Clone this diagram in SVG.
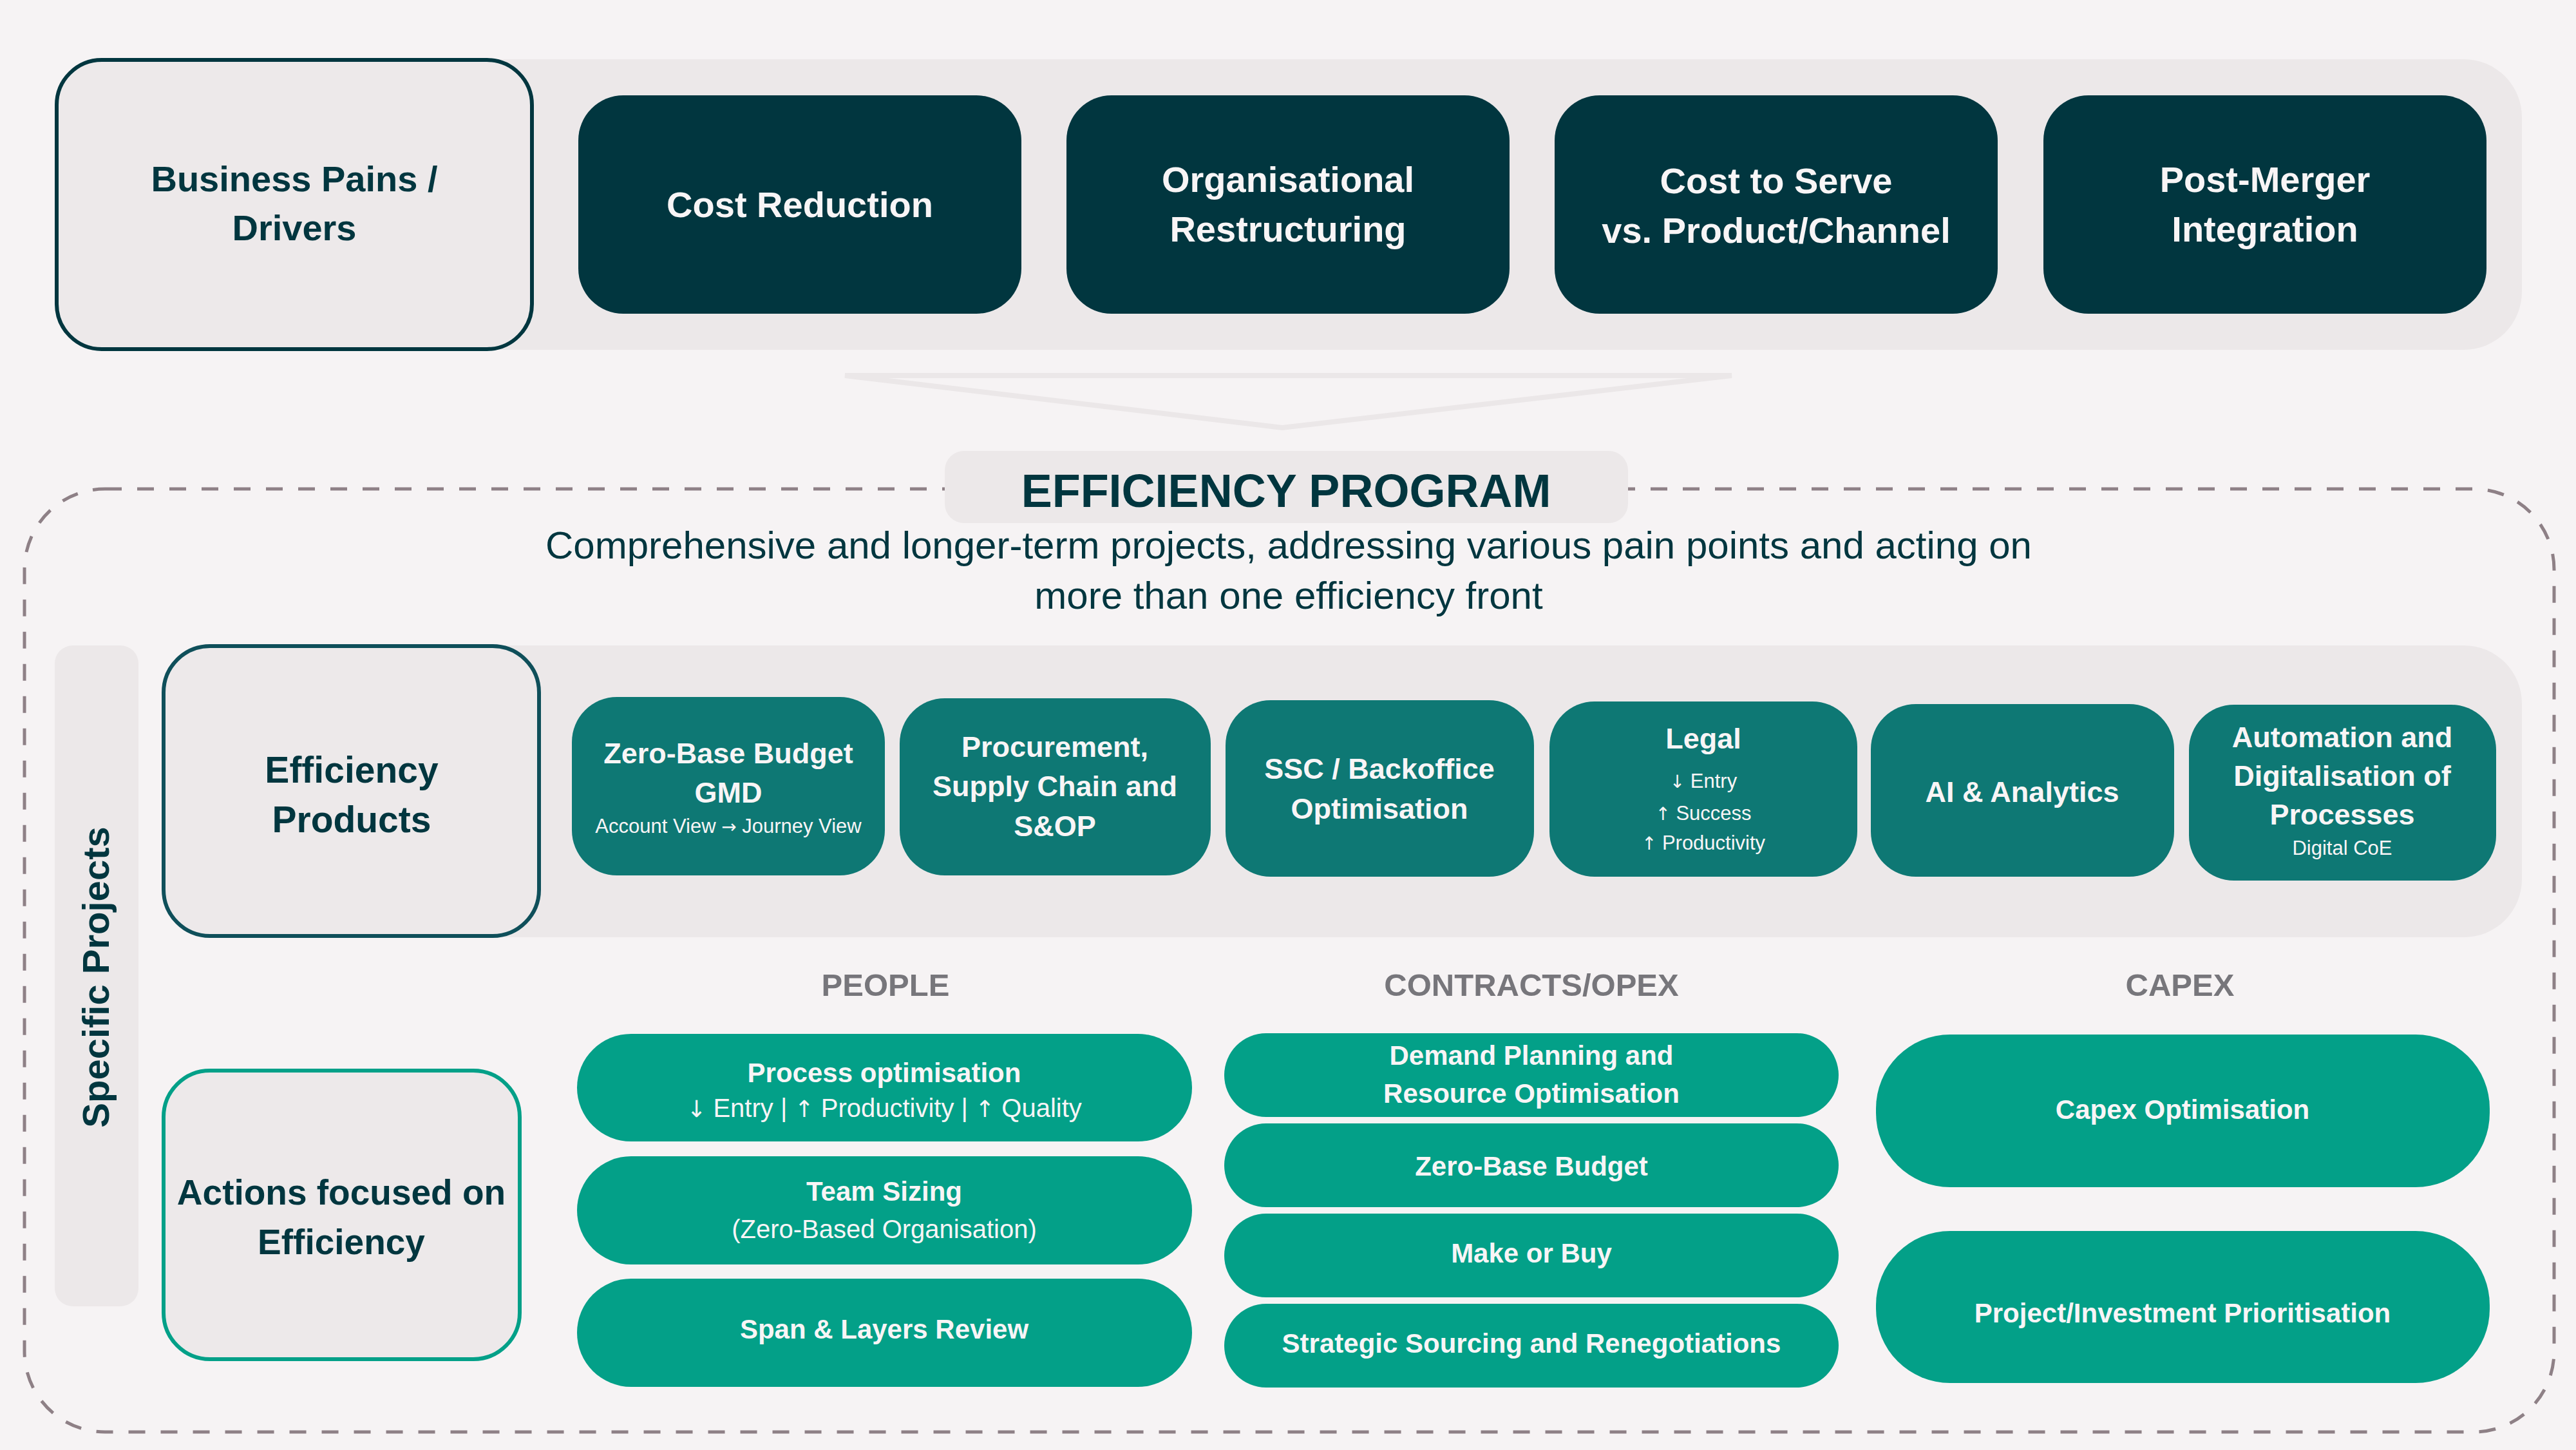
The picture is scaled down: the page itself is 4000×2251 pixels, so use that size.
<svg xmlns="http://www.w3.org/2000/svg" width="4000" height="2251" viewBox="0 0 4000 2251">
<style>
text{font-family:"Liberation Sans",Arial,"DejaVu Sans",sans-serif;text-anchor:middle}
.b{font-weight:700}
.r{font-weight:400}
.ar{font-family:"DejaVu Sans",sans-serif;font-size:0.9em}
.dk{fill:#01363F}
.wt{fill:#F8F5F6}
.gy{fill:#77767B}
.band{fill:#ECE8E9}
.dbox{fill:#01363F}
.tbox{fill:#0E7874}
.gpill{fill:#03A088}
.t56{font-size:56px}
.t45{font-size:45px}
.t42{font-size:42px}
.s31{font-size:31px}
.s40{font-size:40px}
.h49{font-size:49px}
.big57{font-size:57px}
</style>
<rect x="0" y="0" width="4000" height="2251" fill="#F6F3F4"/>

<!-- top band -->
<g id="drivers-band">
<rect class="band" x="100" y="92" width="3816" height="451" rx="90"/>
</g>
<g id="business-pains">
<rect x="88" y="93" width="738" height="449" rx="70" fill="#EDE9EA" stroke="#01363F" stroke-width="6"/>
<text class="b dk t56" x="457" y="297">Business Pains /</text>
<text class="b dk t56" x="457" y="373">Drivers</text>
</g>
<g id="cost-reduction">
<rect class="dbox" x="898" y="148" width="688" height="339" rx="70"/>
<text class="b wt t56" x="1242" y="337">Cost Reduction</text>
</g>
<g id="organisational-restructuring">
<rect class="dbox" x="1656" y="148" width="688" height="339" rx="70"/>
<text class="b wt t56" x="2000" y="298">Organisational</text>
<text class="b wt t56" x="2000" y="375">Restructuring</text>
</g>
<g id="cost-to-serve">
<rect class="dbox" x="2414" y="148" width="688" height="339" rx="70"/>
<text class="b wt t56" x="2758" y="300">Cost to Serve</text>
<text class="b wt t56" x="2758" y="377">vs. Product/Channel</text>
</g>
<g id="post-merger">
<rect class="dbox" x="3173" y="148" width="688" height="339" rx="70"/>
<text class="b wt t56" x="3517" y="298">Post-Merger</text>
<text class="b wt t56" x="3517" y="375">Integration</text>
</g>

<g id="connectors">
<polygon points="1312,583 2689,583 1991,664" fill="none" stroke="#EBE7E8" stroke-width="8"/>
</g>

<!-- program frame -->
<g id="efficiency-program">
<rect x="38" y="759" width="3928" height="1464" rx="125" fill="none" stroke="#8E8086" stroke-width="5" stroke-dasharray="26 24"/>
<rect class="band" x="1467" y="700" width="1061" height="112" rx="30"/>
<text class="b dk" x="1997" y="787" font-size="72">EFFICIENCY PROGRAM</text>
<text class="r dk" x="2001" y="867" font-size="60">Comprehensive and longer-term projects, addressing various pain points and acting on</text>
<text class="r dk" x="2001" y="945" font-size="60">more than one efficiency front</text>
</g>

<g id="specific-projects">
<rect class="band" x="85" y="1002" width="130" height="1026" rx="28"/>
<text class="b dk" font-size="58" transform="translate(169,1517) rotate(-90)">Specific Projects</text>
</g>

<g id="products-band">
<rect class="band" x="300" y="1002" width="3616" height="453" rx="90"/>
</g>
<g id="efficiency-products">
<rect x="254" y="1003" width="583" height="450" rx="72" fill="#EDE9EA" stroke="#0F4F5A" stroke-width="6"/>
<text class="b dk big57" x="546" y="1215">Efficiency</text>
<text class="b dk big57" x="546" y="1292">Products</text>
</g>
<g id="zbb-gmd">
<rect class="tbox" x="888" y="1082" width="486" height="277" rx="70"/>
<text class="b wt t45" x="1131" y="1185">Zero-Base Budget</text>
<text class="b wt t45" x="1131" y="1246">GMD</text>
<text class="r wt s31" x="1131" y="1293">Account View <tspan class="ar">→</tspan> Journey View</text>
</g>
<g id="procurement">
<rect class="tbox" x="1397" y="1084" width="483" height="275" rx="70"/>
<text class="b wt t45" x="1638" y="1175">Procurement,</text>
<text class="b wt t45" x="1638" y="1236">Supply Chain and</text>
<text class="b wt t45" x="1638" y="1298">S&amp;OP</text>
</g>
<g id="ssc-backoffice">
<rect class="tbox" x="1903" y="1087" width="479" height="274" rx="70"/>
<text class="b wt t45" x="2142" y="1209">SSC / Backoffice</text>
<text class="b wt t45" x="2142" y="1271">Optimisation</text>
</g>
<g id="legal">
<rect class="tbox" x="2406" y="1089" width="478" height="272" rx="70"/>
<text class="b wt t45" x="2645" y="1162">Legal</text>
<text class="r wt s31" x="2645" y="1223"><tspan class="ar">↓</tspan> Entry</text>
<text class="r wt s31" x="2645" y="1273"><tspan class="ar">↑</tspan> Success</text>
<text class="r wt s31" x="2645" y="1319"><tspan class="ar">↑</tspan> Productivity</text>
</g>
<g id="ai-analytics">
<rect class="tbox" x="2905" y="1093" width="471" height="268" rx="70"/>
<text class="b wt t45" x="3140" y="1245">AI &amp; Analytics</text>
</g>
<g id="automation">
<rect class="tbox" x="3399" y="1094" width="477" height="273" rx="70"/>
<text class="b wt t45" x="3637" y="1160">Automation and</text>
<text class="b wt t45" x="3637" y="1220">Digitalisation of</text>
<text class="b wt t45" x="3637" y="1280">Processes</text>
<text class="r wt s31" x="3637" y="1327">Digital CoE</text>
</g>

<g id="actions-focused">
<rect x="254" y="1662" width="553" height="448" rx="72" fill="#EDE9EA" stroke="#03A088" stroke-width="6"/>
<text class="b dk" font-size="55" x="530" y="1870">Actions focused on</text>
<text class="b dk" font-size="55" x="530" y="1947">Efficiency</text>
</g>

<g id="headers">
<text class="b gy h49" x="1375" y="1546">PEOPLE</text>
<text class="b gy h49" x="2378" y="1546">CONTRACTS/OPEX</text>
<text class="b gy h49" x="3385" y="1546">CAPEX</text>
</g>

<g id="process-optimisation">
<rect class="gpill" x="896" y="1605" width="955" height="167" rx="84"/>
<text class="b wt t42" x="1373" y="1680">Process optimisation</text>
<text class="r wt s40" x="1373" y="1734"><tspan class="ar">↓</tspan> Entry | <tspan class="ar">↑</tspan> Productivity | <tspan class="ar">↑</tspan> Quality</text>
</g>
<g id="team-sizing">
<rect class="gpill" x="896" y="1795" width="955" height="168" rx="84"/>
<text class="b wt t42" x="1373" y="1864">Team Sizing</text>
<text class="r wt s40" x="1373" y="1922">(Zero-Based Organisation)</text>
</g>
<g id="span-layers">
<rect class="gpill" x="896" y="1985" width="955" height="168" rx="84"/>
<text class="b wt t42" x="1373" y="2078">Span &amp; Layers Review</text>
</g>

<g id="demand-planning">
<rect class="gpill" x="1901" y="1604" width="954" height="130" rx="65"/>
<text class="b wt t42" x="2378" y="1653">Demand Planning and</text>
<text class="b wt t42" x="2378" y="1712">Resource Optimisation</text>
</g>
<g id="zero-base-budget">
<rect class="gpill" x="1901" y="1744" width="954" height="130" rx="65"/>
<text class="b wt t42" x="2378" y="1825">Zero-Base Budget</text>
</g>
<g id="make-or-buy">
<rect class="gpill" x="1901" y="1884" width="954" height="130" rx="65"/>
<text class="b wt t42" x="2378" y="1960">Make or Buy</text>
</g>
<g id="strategic-sourcing">
<rect class="gpill" x="1901" y="2024" width="954" height="130" rx="65"/>
<text class="b wt t42" x="2378" y="2100">Strategic Sourcing and Renegotiations</text>
</g>

<g id="capex-optimisation">
<rect class="gpill" x="2913" y="1606" width="953" height="237" rx="115"/>
<text class="b wt t42" x="3389" y="1737">Capex Optimisation</text>
</g>
<g id="project-prioritisation">
<rect class="gpill" x="2913" y="1911" width="953" height="236" rx="115"/>
<text class="b wt t42" x="3389" y="2053">Project/Investment Prioritisation</text>
</g>
</svg>
